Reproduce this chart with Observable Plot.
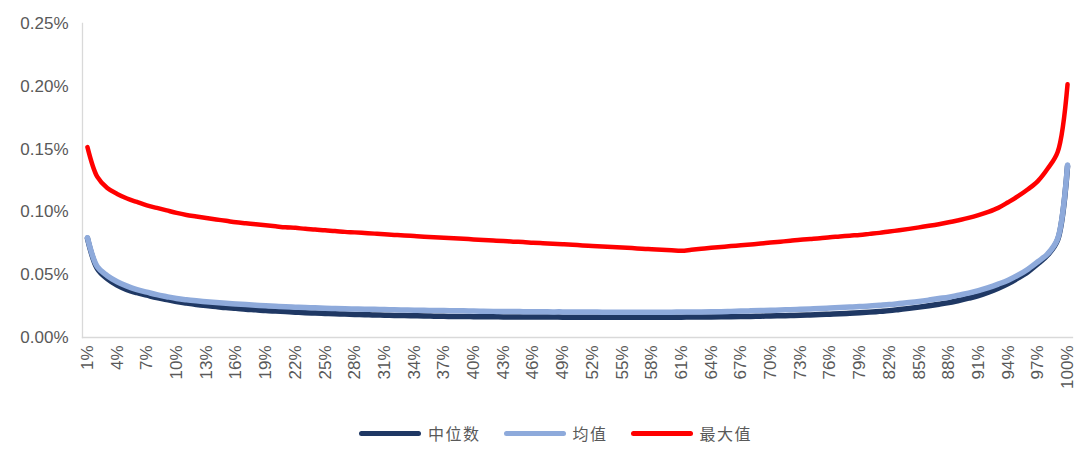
<!DOCTYPE html>
<html>
<head>
<meta charset="utf-8">
<script src="https://cdn.jsdelivr.net/npm/d3@7"></script>
<script src="https://cdn.jsdelivr.net/npm/@observablehq/plot@0.6"></script>
<style>
  body { margin: 0; background: #fff; }
  #legend { display: flex; align-items: center; margin-left: 359px; height: 40px; margin-top: 3px;
    font-family: "Noto Sans CJK SC", sans-serif; font-size: 16px; color: #595959; letter-spacing: 1.5px; }
  .sw { width: 62px; height: 5px; border-radius: 3px; margin-right: 7px; }
  .item { display: flex; align-items: center; margin-right: 23px; }
</style>
</head>
<body>
<div id="chart"></div>
<div id="legend"></div>
<script>
const labels = Array.from({length: 100}, (_, i) => (i + 1) + "%");
const seriesNames = ["中位数", "均值", "最大值"];
const seriesColors = ["#1f3864", "#8eaadb", "#ff0000"];
const yTicks = [0, 0.05, 0.10, 0.15, 0.20, 0.25];

const median = [
0.0790,0.0548,0.0468,0.0417,0.0381,0.0357,0.0337,0.0317,0.0302,0.0286,
0.0274,0.0263,0.0254,0.0246,0.0238,0.0232,0.0225,0.0220,0.0214,0.0210,
0.0206,0.0202,0.0198,0.0195,0.0192,0.0189,0.0187,0.0184,0.0182,0.0179,
0.0178,0.0176,0.0175,0.0173,0.0171,0.0170,0.0169,0.0167,0.0167,0.0166,
0.0165,0.0165,0.0164,0.0164,0.0163,0.0163,0.0163,0.0163,0.0162,0.0162,
0.0162,0.0162,0.0162,0.0162,0.0162,0.0162,0.0162,0.0162,0.0162,0.0162,
0.0162,0.0163,0.0163,0.0164,0.0165,0.0166,0.0167,0.0168,0.0170,0.0171,
0.0173,0.0175,0.0177,0.0180,0.0183,0.0186,0.0189,0.0193,0.0197,0.0202,
0.0208,0.0214,0.0223,0.0232,0.0242,0.0253,0.0265,0.0278,0.0295,0.0313,
0.0333,0.0360,0.0392,0.0429,0.0474,0.0524,0.0587,0.0659,0.0778,0.1365];

const mean = [
0.0794,0.0563,0.0492,0.0444,0.0409,0.0381,0.0361,0.0341,0.0325,0.0310,
0.0300,0.0292,0.0285,0.0278,0.0272,0.0267,0.0262,0.0257,0.0252,0.0248,
0.0244,0.0241,0.0238,0.0236,0.0233,0.0231,0.0229,0.0227,0.0225,0.0224,
0.0222,0.0221,0.0219,0.0217,0.0216,0.0215,0.0214,0.0213,0.0212,0.0210,
0.0209,0.0208,0.0207,0.0207,0.0206,0.0205,0.0205,0.0204,0.0204,0.0203,
0.0203,0.0203,0.0202,0.0202,0.0202,0.0202,0.0202,0.0202,0.0202,0.0202,
0.0203,0.0203,0.0204,0.0205,0.0206,0.0208,0.0210,0.0212,0.0214,0.0216,
0.0219,0.0221,0.0224,0.0227,0.0230,0.0234,0.0238,0.0242,0.0246,0.0250,
0.0256,0.0262,0.0270,0.0278,0.0287,0.0298,0.0310,0.0321,0.0337,0.0353,
0.0373,0.0397,0.0425,0.0456,0.0496,0.0544,0.0603,0.0667,0.0786,0.1373];

const maxv = [
0.1516,0.1278,0.1190,0.1143,0.1107,0.1079,0.1052,0.1032,0.1012,0.0992,
0.0976,0.0964,0.0952,0.0940,0.0929,0.0917,0.0909,0.0901,0.0893,0.0885,
0.0877,0.0873,0.0865,0.0860,0.0853,0.0848,0.0841,0.0837,0.0832,0.0827,
0.0822,0.0817,0.0813,0.0808,0.0803,0.0799,0.0794,0.0790,0.0786,0.0781,
0.0777,0.0772,0.0768,0.0763,0.0760,0.0755,0.0751,0.0746,0.0742,0.0738,
0.0733,0.0729,0.0725,0.0721,0.0716,0.0712,0.0707,0.0703,0.0698,0.0694,
0.0690,0.0698,0.0706,0.0714,0.0721,0.0728,0.0734,0.0741,0.0748,0.0756,
0.0763,0.0770,0.0778,0.0784,0.0790,0.0798,0.0804,0.0811,0.0817,0.0825,
0.0833,0.0844,0.0854,0.0865,0.0877,0.0889,0.0902,0.0917,0.0934,0.0952,
0.0974,0.1000,0.1032,0.1077,0.1125,0.1180,0.1245,0.1345,0.1476,0.2016];

const seriesValues = [median, mean, maxv];
const table = [];
seriesNames.forEach((s, k) => labels.forEach((l, i) => table.push({series: s, x: l, y: seriesValues[k][i]})));

const xTicks = labels.filter((d, i) => i % 3 === 0);

const plot = Plot.plot({
  width: 1092,
  height: 410,
  marginLeft: 82,
  marginRight: 20,
  marginTop: 23,
  marginBottom: 73,
  style: {fontFamily: "'Liberation Sans', Arial, sans-serif", fontSize: "17px", color: "#595959", background: "#fff"},
  x: {type: "point", domain: labels, padding: 0.5},
  y: {domain: [0, 0.25]},
  color: {domain: seriesNames, range: seriesColors},
  marks: [
    Plot.frame({anchor: "left", stroke: "#d9d9d9", strokeWidth: 1.3}),
    Plot.frame({anchor: "bottom", stroke: "#d9d9d9", strokeWidth: 1.3}),
    Plot.axisY({ticks: yTicks, tickFormat: d => d.toFixed(2) + "%", tickSize: 0, tickPadding: 14, label: null}),
    Plot.axisX({ticks: xTicks, tickRotate: -90, tickSize: 0, tickPadding: 8, label: null}),
    Plot.line(table.filter(d => d.series !== "最大值"), {x: "x", y: "y", z: "series", stroke: "series", strokeWidth: 5.5, strokeLinecap: "round", strokeLinejoin: "round", curve: "catmull-rom"}),
    Plot.line(table.filter(d => d.series === "最大值"), {x: "x", y: "y", stroke: "series", strokeWidth: 4.5, strokeLinecap: "round", strokeLinejoin: "round", curve: "catmull-rom"})
  ]
});
document.getElementById("chart").appendChild(plot);

const legend = document.getElementById("legend");
seriesNames.forEach((s, k) => {
  const it = document.createElement("div");
  it.className = "item";
  const sw = document.createElement("div");
  sw.className = "sw";
  sw.style.background = seriesColors[k];
  const t = document.createElement("span");
  t.textContent = s;
  it.appendChild(sw);
  it.appendChild(t);
  legend.appendChild(it);
});
</script>
</body>
</html>
